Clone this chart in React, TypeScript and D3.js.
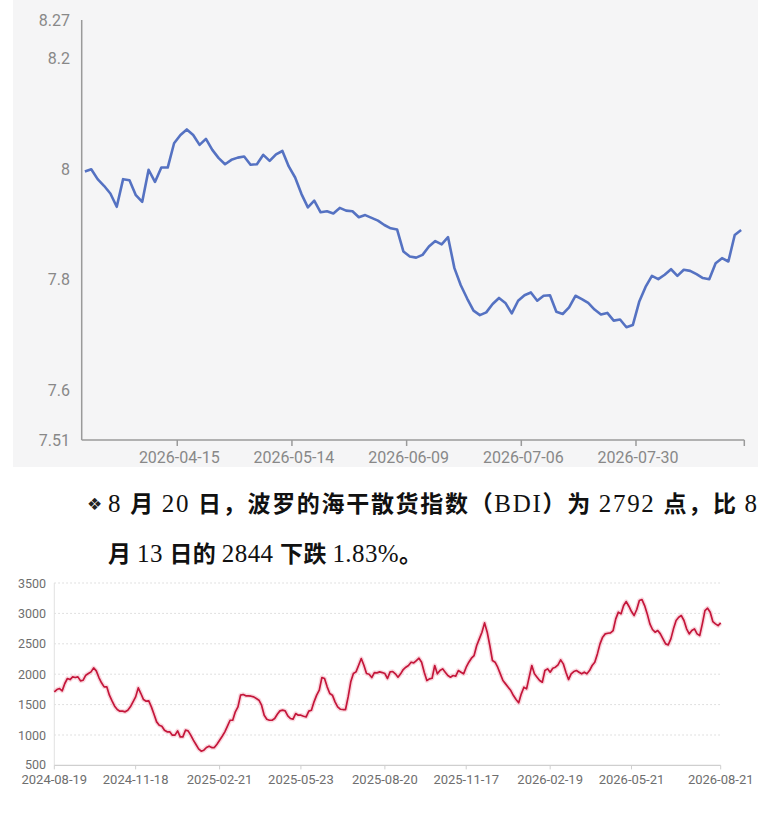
import { useEffect, useRef } from "react"
import * as d3 from "d3"

// 汇率走势（上图）
const fxValues = [
  7.996, 8.0, 7.982, 7.97, 7.956, 7.932, 7.982, 7.98, 7.953, 7.941,
  7.999, 7.977, 8.003, 8.003, 8.047, 8.062, 8.072, 8.062, 8.044, 8.055,
  8.035, 8.02, 8.009, 8.017, 8.021, 8.023, 8.008, 8.009, 8.026, 8.015,
  8.027, 8.033, 8.005, 7.985, 7.955, 7.931, 7.943, 7.922, 7.924, 7.92,
  7.93, 7.925, 7.924, 7.913, 7.917, 7.912, 7.907, 7.899, 7.893, 7.891,
  7.851, 7.842, 7.84, 7.845, 7.86, 7.87, 7.864, 7.877, 7.821, 7.79,
  7.766, 7.744, 7.736, 7.741, 7.756, 7.767, 7.758, 7.739, 7.762, 7.772,
  7.777, 7.762, 7.771, 7.772, 7.742, 7.738, 7.75, 7.771, 7.765, 7.758,
  7.746, 7.737, 7.74, 7.726, 7.728, 7.714, 7.718, 7.76, 7.787, 7.807,
  7.801, 7.809, 7.819, 7.807, 7.818, 7.816, 7.81, 7.803, 7.801, 7.83,
  7.839, 7.833, 7.881, 7.89,
]
const fxTickLabels = ["2026-04-15", "2026-05-14", "2026-06-09", "2026-07-06", "2026-07-30"]
const fxTickIndex = [14, 32, 50, 68, 86]
const fxYTicks = [7.51, 7.6, 7.8, 8, 8.2, 8.27]

// BDI 指数（下图）
const bdiValues = [
  1710, 1748, 1764, 1726, 1847, 1929, 1912, 1956, 1945, 1956,
  1890, 1901, 1984, 2011, 2038, 2104, 2055, 1945, 1858, 1792,
  1792, 1655, 1561, 1474, 1419, 1392, 1392, 1381, 1408, 1463,
  1545, 1627, 1775, 1682, 1583, 1556, 1561, 1463, 1342, 1216,
  1161, 1145, 1079, 1052, 1052, 997, 997, 1068, 969, 969,
  1079, 1068, 997, 915, 843, 772, 734, 750, 794, 816,
  794, 794, 849, 915, 980, 1052, 1145, 1243, 1243, 1381,
  1463, 1655, 1666, 1644, 1644, 1638, 1627, 1600, 1572, 1490,
  1326, 1260, 1243, 1243, 1271, 1342, 1397, 1408, 1397, 1315,
  1271, 1260, 1353, 1326, 1326, 1309, 1298, 1392, 1408, 1545,
  1655, 1737, 1945, 1929, 1792, 1682, 1655, 1545, 1463, 1424,
  1419, 1419, 1627, 1874, 2011, 2038, 2148, 2258, 2148, 2011,
  2000, 1945, 2027, 2022, 2038, 2027, 2011, 1929, 2038,
  2044, 2006, 1951, 2006, 2077, 2115, 2143, 2197, 2186, 2225,
  2263, 2197, 2033, 1896, 1923, 1934, 2143, 2006, 2060, 2088,
  2033, 1978, 1951, 1978, 1967, 2060, 2033, 2006, 2115, 2197,
  2263, 2307, 2472, 2581, 2691, 2844, 2691, 2472, 2225, 2197,
  2115, 2006, 1896, 1841, 1786, 1731, 1649, 1583, 1529, 1677,
  1786, 1759, 1951, 2143, 2006, 1951, 1896, 1868, 2060, 2088,
  2033, 2099, 2115, 2154, 2236, 2170, 2033, 1912, 2006, 2044,
  2060, 2033, 2006, 2033, 2006, 2060, 2143, 2197, 2334, 2499,
  2609, 2663, 2674, 2680, 2718, 2910, 3020, 2992, 3129, 3195,
  3118, 3031, 2965, 3064, 3212, 3228, 3129, 2992, 2828, 2735,
  2691, 2718, 2663, 2581, 2499, 2482, 2581, 2746, 2883, 2937,
  2965, 2883, 2746, 2663, 2718, 2746, 2663, 2636, 2828, 3047,
  3085, 3020, 2866, 2828, 2800, 2844,
]
const bdiTickLabels = [
  "2024-08-19", "2024-11-18", "2025-02-21", "2025-05-23", "2025-08-20",
  "2025-11-17", "2026-02-19", "2026-05-21", "2026-08-21",
]
const bdiTickIndex = [0, 31, 63, 94, 126, 157, 189, 220, 254]
const bdiYTicks = [500, 1000, 1500, 2000, 2500, 3000, 3500]

// 正文
const line1: [string, boolean][] = [
  ["8 ", false], ["月 ", true], ["20 ", false], ["日，波罗的海干散货指数（", true],
  ["BDI", false], ["）为 ", true], ["2792 ", false], ["点，比 ", true], ["8", false],
]
const line2: [string, boolean][] = [
  ["月 ", true], ["13 ", false], ["日的 ", true], ["2844 ", false],
  ["下跌 ", true], ["1.83%", false], ["。", true],
]

export default function App() {
  const svgRef = useRef(null)

  useEffect(() => {
    if (!svgRef.current) return
    const svg = d3.select(svgRef.current)
    svg.selectAll("*").remove()

    const width = 782
    const height = 822
    const labelFont = "Roboto, 'Noto Sans', sans-serif"

    // ---------- 上图 ----------
    svg.append("rect").attr("x", 13).attr("y", 0).attr("width", 745).attr("height", 467).attr("fill", "#f5f5f6")

    const fx = d3.scaleLinear().domain([-0.5, fxValues.length - 0.5]).range([81.7, 744.3])
    const fy = d3.scaleLinear().domain([7.51, 8.27]).range([440, 20])
    const axisColor = "#9a9a9a"

    const top = svg.append("g")
    top.append("line").attr("x1", 81.7).attr("x2", 81.7).attr("y1", fy(8.27)).attr("y2", fy(7.51))
      .attr("stroke", axisColor).attr("stroke-width", 1.5)
    top.append("line").attr("x1", 81.7).attr("x2", fx.range()[1]).attr("y1", fy(7.51)).attr("y2", fy(7.51))
      .attr("stroke", axisColor).attr("stroke-width", 1.5)

    // Y 轴标签
    top.selectAll("text.ylab").data(fxYTicks).enter().append("text")
      .attr("class", "ylab")
      .attr("x", 70).attr("y", (d) => fy(d))
      .attr("text-anchor", "end").attr("dominant-baseline", "central")
      .attr("font-family", labelFont).attr("font-size", 16).attr("fill", "#888")
      .text((d) => String(d))

    // X 轴刻度
    const tickX = fxTickIndex.map((i) => fx(i + 0.5))
    top.selectAll("line.xt").data([...tickX, fx.range()[1]]).enter().append("line")
      .attr("class", "xt")
      .attr("x1", (d) => d).attr("x2", (d) => d).attr("y1", 440).attr("y2", 446)
      .attr("stroke", axisColor).attr("stroke-width", 1.5)
    top.selectAll("text.xlab").data(fxTickLabels).enter().append("text")
      .attr("class", "xlab")
      .attr("x", (d, i) => tickX[i] + 2).attr("y", 457)
      .attr("text-anchor", "middle").attr("dominant-baseline", "central")
      .attr("font-family", labelFont).attr("font-size", 16).attr("fill", "#888")
      .text((d) => d)

    const fxLine = d3.line<number>().x((d, i) => fx(i)).y((d) => fy(d))
    top.append("path").datum(fxValues).attr("d", fxLine)
      .attr("fill", "none").attr("stroke", "#5572c2").attr("stroke-width", 2.6)
      .attr("stroke-linejoin", "round")

    // ---------- 正文 ----------
    svg.append("text").attr("x", 87).attr("y", 510)
      .attr("font-family", "'DejaVu Sans'").attr("font-size", 17).attr("fill", "#222")
      .text("❖")

    const writeLine = (parts: [string, boolean][], y: number, len: number) => {
      const t = svg.append("text").attr("x", 108).attr("y", y)
        .attr("font-size", 24).attr("fill", "#111")
        .attr("textLength", len).attr("lengthAdjust", "spacing")
        .attr("xml:space", "preserve")
      parts.forEach(([s, cjk]) => {
        t.append("tspan")
          .attr("font-family", cjk ? "'Noto Sans CJK SC'" : "'Liberation Serif'")
          .attr("font-weight", cjk ? 700 : 400)
          .attr("font-size", cjk ? 23 : 25)
          .text(s)
      })
    }
    writeLine(line1, 512, 649)
    writeLine(line2, 562, 314)

    // ---------- 下图 ----------
    const bx = d3.scaleLinear().domain([0, bdiValues.length - 1]).range([54.3, 720.7])
    const by = d3.scaleLinear().domain([500, 3500]).range([765.4, 583])
    const bottom = svg.append("g")

    bottom.selectAll("line.grid").data(bdiYTicks.filter((d) => d > 500)).enter().append("line")
      .attr("class", "grid")
      .attr("x1", 54.3).attr("x2", 720.7).attr("y1", (d) => by(d)).attr("y2", (d) => by(d))
      .attr("stroke", "#d6d6d6").attr("stroke-width", 1).attr("stroke-dasharray", "1.5 2.5")
    bottom.append("line").attr("x1", 54.3).attr("x2", 54.3).attr("y1", by(3500)).attr("y2", by(500))
      .attr("stroke", "#e2e2e2").attr("stroke-width", 1)
    bottom.append("line").attr("x1", 54.3).attr("x2", 720.7).attr("y1", by(500)).attr("y2", by(500))
      .attr("stroke", "#cfcfcf").attr("stroke-width", 1.2)

    bottom.selectAll("text.bylab").data(bdiYTicks).enter().append("text")
      .attr("class", "bylab")
      .attr("x", 46).attr("y", (d) => by(d) - (d === 500 ? 1 : 0))
      .attr("text-anchor", "end").attr("dominant-baseline", "central")
      .attr("font-family", labelFont).attr("font-size", 12.5).attr("fill", "#6e6e6e")
      .text((d) => String(d))

    bottom.selectAll("line.bxt").data(bdiTickIndex).enter().append("line")
      .attr("class", "bxt")
      .attr("x1", (d) => bx(d)).attr("x2", (d) => bx(d)).attr("y1", by(500)).attr("y2", by(500) + 4)
      .attr("stroke", "#cfcfcf").attr("stroke-width", 1)
    bottom.selectAll("text.bxlab").data(bdiTickLabels).enter().append("text")
      .attr("class", "bxlab")
      .attr("x", (d, i) => bx(bdiTickIndex[i])).attr("y", 779.5)
      .attr("text-anchor", "middle").attr("dominant-baseline", "central")
      .attr("font-family", labelFont).attr("font-size", 13).attr("fill", "#6e6e6e")
      .text((d) => d)

    const bdiLine = d3.line<number>().x((d, i) => bx(i)).y((d) => by(d))
    bottom.append("path").datum(bdiValues).attr("d", bdiLine)
      .attr("fill", "none").attr("stroke", "#f4b8c4").attr("stroke-width", 4.5).attr("stroke-opacity", 0.55)
      .attr("stroke-linejoin", "round")
    bottom.append("path").datum(bdiValues).attr("d", bdiLine)
      .attr("fill", "none").attr("stroke", "#c4163a").attr("stroke-width", 1.7)
      .attr("stroke-linejoin", "round")

    svg.attr("width", width).attr("height", height).attr("viewBox", [0, 0, width, height])
  }, [])

  return (
    <div style={{ position: "absolute", left: 0, top: 0, background: "#fff" }}>
      <svg ref={svgRef} style={{ display: "block" }}></svg>
    </div>
  )
}
